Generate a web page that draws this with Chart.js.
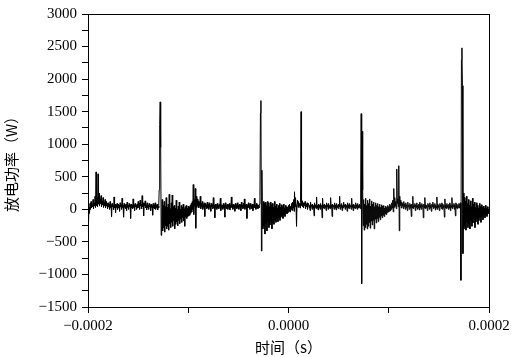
<!DOCTYPE html>
<html>
<head>
<meta charset="utf-8">
<script src="https://cdn.jsdelivr.net/npm/chart.js@4"></script>
<style>
  body { margin: 0; background: #fff; }
  canvas { display: block; }
</style>
</head>
<body>
<canvas id="powerChart" width="515" height="357"></canvas>
<script>
// sampled every 0.5 us, first sample at -0.0002 s
const sampleStart = -0.0002
const sampleInterval = 0.0000005

// discharge power (W), 20 samples per row
const powerValues = [
  -440, -200, 30, -60, 90, 0, 120, 20, 70, 40, 150, 10, 90, 50, 200, 30, 575, 60, 180, 40,
  545, 80, 250, 50, 160, 90, 210, 40, 130, 70, 180, 30, 110, 60, 150, 20, 120, 50, 90, 10,
  100, 40, 80, 0, 120, 30, 70, -110, 90, 40, 60, -10, 190, 20, 80, -50, 70, 30, 90, 0,
  80, 20, 60, -30, 100, 40, 70, 0, 170, 20, 60, -120, 90, 30, 70, 10, 80, -20, 110, 30,
  60, 0, 90, 40, 70, -140, 80, 20, 60, 10, 160, 30, 70, -20, 90, 40, 60, 0, 80, 20,
  120, 30, 90, 0, 140, 50, 80, 10, 210, 40, 100, -100, 90, 50, 130, 20, 70, -10, 100, 30,
  60, 0, 90, 40, 70, -20, 80, 30, 60, -90, 90, 20, 70, 10, 100, 0, 60, 30, 80, -10,
  50, 20, 300, 1300, 1650, 950, -400, -150, 150, -330, 60, -280, 120, -350, 40, -250, 180, -300, 30, -260,
  80, -320, 230, -220, 10, -280, 100, -200, 220, -260, 40, -180, 60, -300, 20, -230, 140, -190, 0, -250,
  50, -170, 110, -220, 0, -150, 60, -200, 30, -130, 80, -180, 10, -260, 40, -120, 60, -140, 20, -110,
  50, -100, 30, -90, 60, -60, 90, -40, 120, 0, 380, -80, 150, 40, 320, -290, 200, 30, 160, 60,
  130, 20, 110, 50, 200, 10, 90, 40, 120, 0, 80, 30, 100, -110, 90, 40, 70, 10, 110, 20,
  80, 0, 100, 30, 60, -30, 90, 40, 70, 10, 180, 20, 60, -130, 80, 30, 70, 0, 90, 20,
  60, 10, 80, 40, 170, -20, 70, 30, 60, 0, 90, 20, 70, -120, 100, 30, 60, 10, 80, 0,
  70, 30, 90, -10, 60, 20, 190, 40, 70, 0, 80, 30, 60, -30, 90, 20, 70, 10, 100, 30,
  60, 0, 80, 40, 70, -20, 110, 30, 60, 10, 90, 20, 160, 0, 70, 40, 80, -140, 60, 20,
  100, 30, 70, 0, 90, 40, 60, 10, 80, -20, 70, 30, 170, 20, 60, 0, 90, 30, 70, 10,
  60, 20, 80, 200, 1480, 1670, -640, 600, -200, -300, 120, -250, 90, -380, 110, -220, 60, -330, 120, -200,
  100, -280, 40, -240, 110, -190, 70, -300, 90, -210, 30, -230, 120, -160, 50, -200, 80, -150, 20, -190,
  60, -130, 90, -170, 30, -120, 70, -100, 40, -140, 80, -80, 20, -110, 60, -60, 40, -70, 30, -50,
  60, -30, 80, -40, 50, 0, 90, -20, 110, 20, 150, -30, 270, 40, 180, 60, -260, 90, 140, 30,
  120, 50, 90, 20, 110, 1500, 60, 130, 40, 100, 20, 90, 60, 120, 10, 80, 40, 100, 0, 70,
  90, 30, 60, -20, 110, 40, 70, 0, 80, 20, 60, -100, 100, 30, 70, 10, 190, 20, 60, -10,
  80, 30, 70, 0, 90, 40, 60, -130, 170, 20, 70, 10, 80, 30, 60, -20, 100, 40, 70, 0,
  90, 20, 60, 10, 180, 30, 70, -110, 80, 40, 60, 0, 100, 20, 70, -10, 90, 30, 60, 10,
  80, 40, 200, 0, 70, 30, 90, -20, 60, 20, 110, 40, 70, 0, 80, 30, 60, -30, 100, 20,
  70, 10, 90, 40, 60, 0, 170, 30, 70, -20, 80, 20, 60, 10, 100, 30, 70, 0, 90, 20,
  60, 30, 80, 10, 250, 1470, -1140, 1200, 300, -250, 150, -320, 80, -280, 170, -230, 60, -300, 140, -260,
  90, -200, 160, -290, 50, -180, 130, -240, 80, -170, 110, -300, 40, -150, 100, -210, 60, -140, 90, -190,
  40, -120, 80, -160, 30, -100, 70, -130, 50, -90, 60, -110, 20, -70, 50, -80, 30, -50, 60, -40,
  40, -30, 80, -20, 60, 0, 100, 20, 140, -40, 320, 30, 180, 50, 120, 10, 620, 90, 160, 40,
  670, -330, 200, 60, 140, 20, 110, 50, 90, 10, 120, 40, 80, 0, 100, 30, 70, -20, 110, 40,
  60, 0, 90, 30, 70, -110, 80, 20, 200, 10, 60, 40, 90, -20, 70, 30, 100, 0, 60, 20,
  80, -10, 110, 30, 70, 0, 90, 40, 60, -130, 80, 20, 180, 10, 70, 30, 60, -20, 90, 40,
  70, 0, 100, 20, 60, -30, 80, 40, 110, 10, 70, 30, 90, -10, 60, 20, 190, 0, 80, 30,
  60, -20, 90, 40, 70, 10, 100, 0, 80, 30, 60, -120, 160, 20, 70, 10, 90, 30, 60, 0,
  80, 20, 100, -20, 70, 30, 180, 10, 60, 40, 90, 0, 70, -100, 100, 20, 80, 10, 60, 30,
  90, 20, 80, 100, -1090, 2300, 2480, 1900, -680, 250, -300, 180, -250, 120, -320, 200, -200, 90, -280, 150,
  -230, 60, -300, 130, -180, 40, -260, 170, -210, 80, -150, 110, -280, 30, -190, 100, -140, 60, -230, 20,
  -170, 90, -120, 40, -200, 70, -110, 30, -160, 50, -90, 20, -130, 60, -80, 10, -110, 40, -70, 0,
  -60
]

const xRange = [-0.0002, 0.0002]
const xStep = 0.0001
const yRange = [-1500, 3000]
const yStep = 250

const xTitle = '时间（s）'
const yTitle = '放电功率（W）'

const minus = (s) => s.replace('-', '\u2212')

const points = powerValues.map((v, i) => ({ x: sampleStart + i * sampleInterval, y: v }))

const frameBox = {
  id: 'frameBox',
  afterDraw(chart) {
    const { ctx, chartArea } = chart
    ctx.save()
    ctx.strokeStyle = '#000'
    ctx.lineWidth = 1
    ctx.strokeRect(chartArea.left + 0.5, chartArea.top + 0.5, chartArea.right - chartArea.left, chartArea.bottom - chartArea.top)
    ctx.restore()
  }
}

const tickFont = { family: '"Liberation Serif", "DejaVu Serif", serif', size: 15 }
const titleFont = { family: '"Noto Sans CJK SC", sans-serif', size: 15 }

new Chart(document.querySelector('#powerChart'), {
  type: 'line',
  data: {
    datasets: [{
      data: points,
      borderColor: '#000',
      borderWidth: 1,
      pointRadius: 0,
      tension: 0,
      fill: false
    }]
  },
  options: {
    responsive: false,
    animation: false,
    layout: { padding: { top: 10, right: 26, left: 2, bottom: 0 } },
    plugins: {
      legend: { display: false },
      tooltip: { enabled: false }
    },
    scales: {
      x: {
        type: 'linear',
        min: xRange[0],
        max: xRange[1],
        border: { display: true, color: '#000', width: 1 },
        grid: { drawOnChartArea: false, drawTicks: true, tickLength: 6, color: '#000' },
        ticks: {
          stepSize: xStep,
          color: '#000',
          font: tickFont,
          padding: 4,
          maxRotation: 0,
          autoSkip: false,
          callback: (v, i) => i % 2 === 0 ? minus((Math.abs(v) < 1e-12 ? 0 : v).toFixed(4)) : ''
        },
        title: { display: true, text: xTitle, color: '#000', font: titleFont, padding: { top: 0, bottom: 1 } },
        afterFit: (scale) => { scale.height = 50 }
      },
      y: {
        type: 'linear',
        min: yRange[0],
        max: yRange[1],
        border: { display: true, color: '#000', width: 1 },
        grid: { drawOnChartArea: false, drawTicks: true, tickLength: 6, color: '#000' },
        ticks: {
          stepSize: yStep,
          color: '#000',
          font: tickFont,
          padding: 5,
          autoSkip: false,
          callback: (v) => v % 500 === 0 ? minus(String(v)) : ''
        },
        title: { display: true, text: yTitle, color: '#000', font: titleFont, padding: { top: 0, bottom: 0 } },
        afterFit: (scale) => { scale.width = 86 }
      }
    }
  },
  plugins: [frameBox]
})
</script>
</body>
</html>
